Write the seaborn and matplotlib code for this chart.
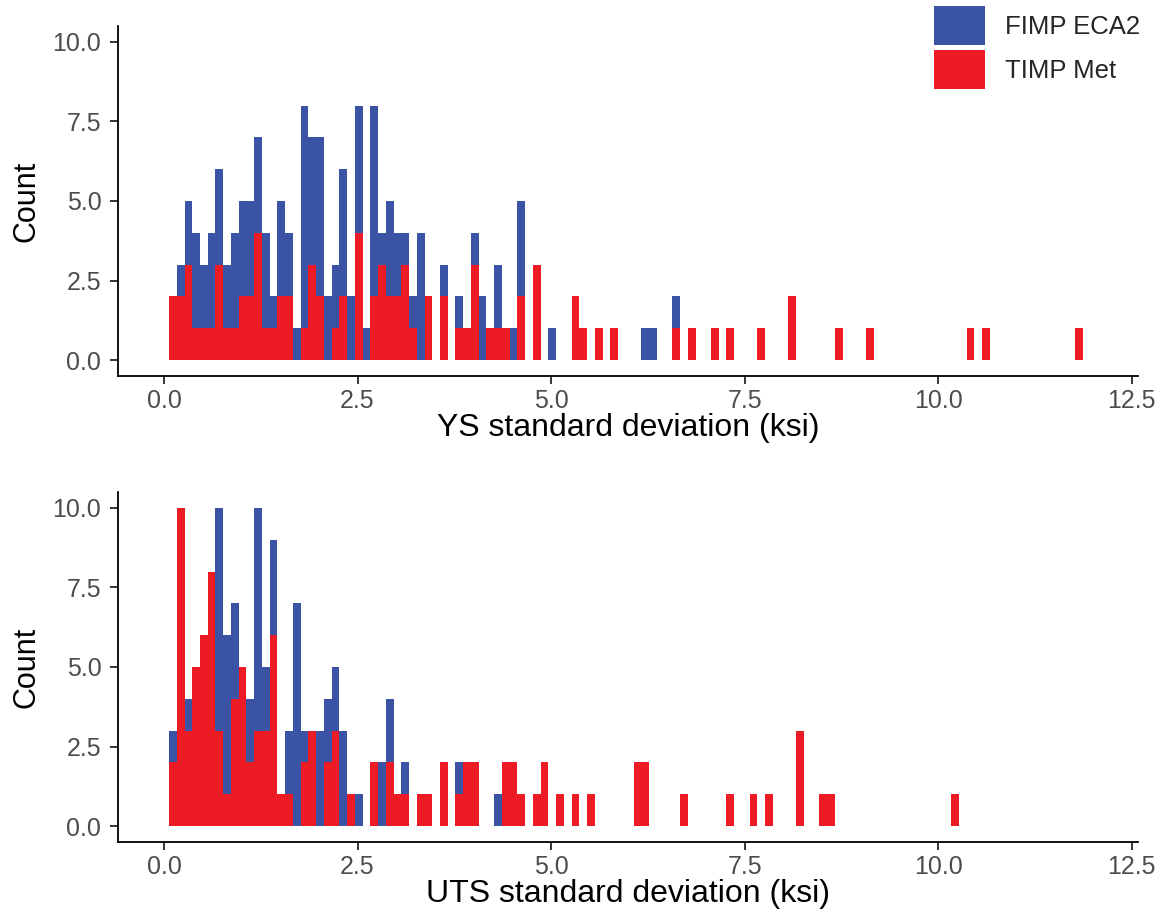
import numpy as np
import pandas as pd
import matplotlib
matplotlib.use("Agg")
import matplotlib.pyplot as plt
import seaborn as sns

# ---------------- data (counts per 0.1 ksi bin) ----------------
series_names = ["FIMP ECA2", "TIMP Met"]
bin_start = 0.065
bin_width = 0.1

# YS panel: counts per bin, bin k covers [bin_start + k*w, bin_start + (k+1)*w)
ys_timp = [2, 2, 3, 1, 1, 1, 3, 1, 1, 2,
           2, 4, 1, 1, 2, 2, 0, 1, 3, 2,
           0, 1, 2, 0, 4, 0, 2, 3, 2, 2,
           3, 1, 0, 2, 0, 2, 0, 1, 1, 3,
           0, 1, 1, 1, 0, 2, 0, 3, 0, 0,
           0, 0, 2, 1, 0, 1, 0, 1, 0, 0,
           0, 0, 0, 0, 0, 1, 0, 1, 0, 0,
           1, 0, 1, 0, 0, 0, 1, 0, 0, 0,
           2, 0, 0, 0, 0, 0, 1, 0, 0, 0,
           1, 0, 0, 0, 0, 0, 0, 0, 0, 0,
           0, 0, 0, 1, 0, 1, 0, 0, 0, 0,
           0, 0, 0, 0, 0, 0, 0, 1]
ys_fimp = [0, 1, 2, 3, 2, 3, 3, 2, 3, 3,
           3, 3, 3, 1, 3, 2, 1, 7, 4, 5,
           2, 2, 4, 2, 4, 1, 6, 1, 3, 2,
           1, 1, 4, 0, 0, 1, 0, 1, 0, 1,
           2, 0, 2, 0, 1, 3, 0, 0, 0, 1,
           0, 0, 0, 0, 0, 0, 0, 0, 0, 0,
           0, 1, 1, 0, 0, 1, 0, 0, 0, 0,
           0, 0, 0, 0, 0, 0, 0, 0, 0, 0,
           0, 0, 0, 0, 0, 0, 0, 0, 0, 0,
           0, 0, 0, 0, 0, 0, 0, 0, 0, 0,
           0, 0, 0, 0, 0, 0, 0, 0, 0, 0,
           0, 0, 0, 0, 0, 0, 0, 0]

# UTS panel
uts_timp = [2, 10, 3, 5, 6, 8, 3, 1, 4, 5,
            2, 3, 3, 6, 1, 1, 0, 2, 3, 0,
            2, 3, 0, 1, 0, 0, 2, 0, 2, 1,
            1, 0, 1, 1, 0, 2, 0, 1, 2, 2,
            0, 0, 0, 2, 2, 1, 0, 1, 2, 0,
            1, 0, 1, 0, 1, 0, 0, 0, 0, 0,
            2, 2, 0, 0, 0, 0, 1, 0, 0, 0,
            0, 0, 1, 0, 0, 1, 0, 1, 0, 0,
            0, 3, 0, 0, 1, 1, 0, 0, 0, 0,
            0, 0, 0, 0, 0, 0, 0, 0, 0, 0,
            0, 1]
uts_fimp = [1, 0, 1, 0, 0, 0, 7, 5, 3, 0,
            2, 7, 2, 3, 0, 2, 7, 1, 0, 3,
            2, 2, 3, 0, 1, 0, 0, 2, 2, 0,
            1, 0, 0, 0, 0, 0, 0, 1, 0, 0,
            0, 0, 1, 0, 0, 0, 0, 0, 0, 0,
            0, 0, 0, 0, 0, 0, 0, 0, 0, 0,
            0, 0, 0, 0, 0, 0, 0, 0, 0, 0,
            0, 0, 0, 0, 0, 0, 0, 0, 0, 0,
            0, 0, 0, 0, 0, 0, 0, 0, 0, 0,
            0, 0, 0, 0, 0, 0, 0, 0, 0, 0,
            0, 0]

x_ticks = [0.0, 2.5, 5.0, 7.5, 10.0, 12.5]
y_ticks = [0.0, 2.5, 5.0, 7.5, 10.0]
colors = {"FIMP ECA2": "#3A53A4", "TIMP Met": "#ED1C24"}


def make_frame(fimp, timp):
    n = len(fimp)
    centers = bin_start + (np.arange(n) + 0.5) * bin_width
    df = pd.concat([
        pd.DataFrame({"x": centers, "w": np.asarray(fimp, float), "grp": series_names[0]}),
        pd.DataFrame({"x": centers, "w": np.asarray(timp, float), "grp": series_names[1]}),
    ], ignore_index=True)
    edges = [float(bin_start + i * bin_width) for i in range(n + 1)]
    return df, edges


sns.set_theme(style="ticks")
plt.rcParams["font.family"] = ["Liberation Sans", "DejaVu Sans"]

fig = plt.figure(figsize=(11.64, 9.24), dpi=100)
ax1 = fig.add_axes([118 / 1164, 1 - 376 / 924, 1020 / 1164, 350 / 924])
ax2 = fig.add_axes([118 / 1164, 1 - 842 / 924, 1020 / 1164, 350 / 924])

panels = [(ax1, ys_fimp, ys_timp, "YS standard deviation (ksi)", True),
          (ax2, uts_fimp, uts_timp, "UTS standard deviation (ksi)", False)]

for ax, fimp, timp, xlabel, show_leg in panels:
    df, edges = make_frame(fimp, timp)
    sns.histplot(data=df, x="x", weights="w", hue="grp", hue_order=series_names,
                 bins=edges, multiple="stack", element="bars", palette=colors,
                 alpha=1, linewidth=0, ax=ax, legend=show_leg)
    ax.set_xlim(-0.594, 12.58)
    ax.set_ylim(-0.5, 10.5)
    ax.set_xticks(x_ticks)
    ax.set_xticklabels([f"{t:.1f}" for t in x_ticks])
    ax.set_yticks(y_ticks)
    ax.set_yticklabels([f"{t:.1f}" for t in y_ticks])
    ax.set_xlabel(xlabel, fontsize=23, color="black", labelpad=0)
    ax.set_ylabel("Count", fontsize=22, color="black", labelpad=8)
    ax.tick_params(axis="both", labelsize=18, colors="black", labelcolor="#4D4D4D",
                   length=5.5, width=1.1, direction="out")
    ax.tick_params(axis="x", pad=4)
    ax.tick_params(axis="y", pad=6.5)
    for s in ["left", "bottom"]:
        ax.spines[s].set_linewidth(1.3)
        ax.spines[s].set_color("black")
    sns.despine(ax=ax)

sns.move_legend(ax1, loc="upper left", bbox_to_anchor=(934 / 1164, 1 - 6 / 924),
                bbox_transform=fig.transFigure, frameon=False, title=None,
                fontsize=18.5, handlelength=2.0, handleheight=1.95,
                labelspacing=0.2, handletextpad=0.75, borderpad=0,
                borderaxespad=0)

fig.savefig("out.png", dpi=100)
